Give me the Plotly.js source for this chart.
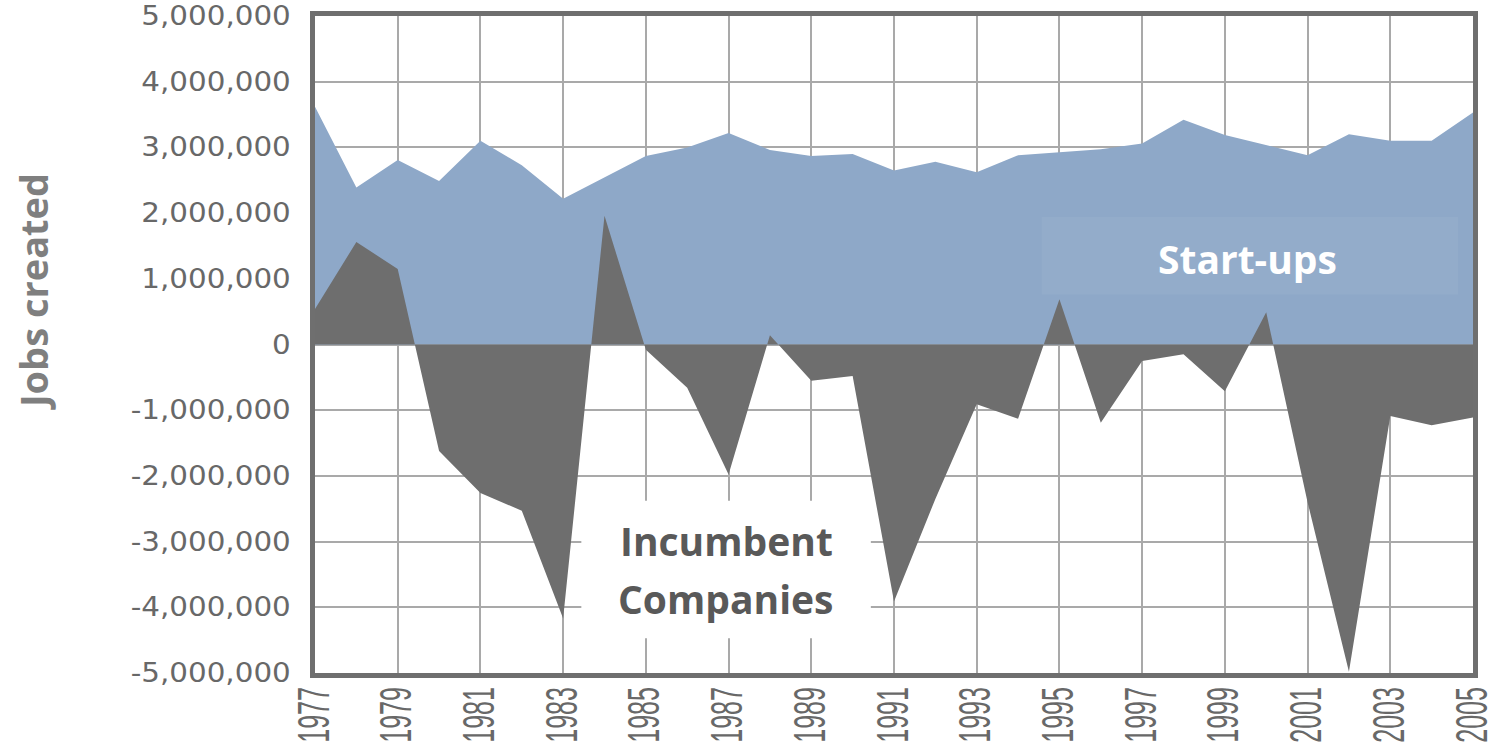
<!DOCTYPE html>
<html>
<head>
<meta charset="utf-8">
<script src="https://cdn.plot.ly/plotly-3.0.1.min.js"></script>
<style>
  html, body { margin: 0; padding: 0; background: #ffffff; }
  #chart { width: 1503px; height: 748px; }
</style>
</head>
<body>
<div id="chart"></div>
<script>
// ---- Data ----
const years = [1977, 1978, 1979, 1980, 1981, 1982, 1983, 1984, 1985, 1986,
               1987, 1988, 1989, 1990, 1991, 1992, 1993, 1994, 1995, 1996,
               1997, 1998, 1999, 2000, 2001, 2002, 2003, 2004, 2005];

const startups = [3620000, 2390000, 2810000, 2490000, 3100000, 2730000, 2220000, 2550000, 2870000, 3000000,
                  3220000, 2960000, 2870000, 2900000, 2650000, 2780000, 2620000, 2880000, 2920000, 2970000,
                  3060000, 3420000, 3190000, 3030000, 2880000, 3200000, 3100000, 3100000, 3530000];

const incumbents = [540000, 1560000, 1150000, -1620000, -2260000, -2530000, -4170000, 1960000, -80000, -660000,
                    -1980000, 140000, -550000, -480000, -3910000, -2350000, -910000, -1130000, 690000, -1190000,
                    -250000, -150000, -710000, 490000, -2400000, -4980000, -1090000, -1230000, -1110000];

const xTickVals = [1977, 1979, 1981, 1983, 1985, 1987, 1989, 1991, 1993, 1995, 1997, 1999, 2001, 2003, 2005];
const xTickText = ["1977", "1979", "1981", "1983", "1985", "1987", "1989", "1991", "1993", "1995", "1997", "1999", "2001", "2003", "2005"];
const yTickVals = [5000000, 4000000, 3000000, 2000000, 1000000, 0, -1000000, -2000000, -3000000, -4000000, -5000000];
const yTickText = ["5,000,000", "4,000,000", "3,000,000", "2,000,000", "1,000,000", "0",
                   "-1,000,000", "-2,000,000", "-3,000,000", "-4,000,000", "-5,000,000"];

const seriesNames = ["Start-ups", "Incumbent Companies"];
const labelLines = ["Incumbent", "Companies"];
const yTitle = "Jobs created";

// ---- Styles ----
const blue = "#8ea8c8";
const darkGray = "#6e6e6e";
const frame = "#6f6f6f";
const grid = "#a9a9a9";

const traces = [
  {
    x: years, y: startups, name: seriesNames[0], type: "scatter", mode: "lines",
    fill: "tozeroy", fillcolor: blue, line: { color: blue, width: 0 }, hoverinfo: "x+y"
  },
  {
    x: years, y: incumbents, name: seriesNames[1], type: "scatter", mode: "lines",
    fill: "tozeroy", fillcolor: darkGray, line: { color: darkGray, width: 0 }, hoverinfo: "x+y"
  }
];

const L = 315, R = 1473, T = 16, B = 673;
const layout = {
  width: 1503, height: 748,
  margin: { l: L, r: 1503 - R, t: T, b: 748 - B, pad: 0 },
  paper_bgcolor: "#ffffff", plot_bgcolor: "#ffffff",
  showlegend: false,
  xaxis: {
    range: [1977, 2005], tickmode: "array", tickvals: xTickVals, ticktext: xTickText,
    tickangle: -90, showgrid: true, gridcolor: grid, gridwidth: 2,
    showline: true, mirror: true, linecolor: frame, linewidth: 5, zeroline: false,
    ticks: "", ticklabelstandoff: 10,
    tickfont: { family: "Liberation Sans, Arial, sans-serif", size: 44, color: "#686868" }
  },
  yaxis: {
    range: [-5000000, 5000000], tickmode: "array", tickvals: yTickVals, ticktext: yTickText,
    showgrid: true, gridcolor: grid, gridwidth: 2,
    showline: true, mirror: true, linecolor: frame, linewidth: 5, zeroline: false,
    ticks: "", ticklabelstandoff: 14,
    tickfont: { family: "DejaVu Sans, sans-serif", size: 26, color: "#686868" }
  },
  shapes: [
    { type: "rect", xref: "x", yref: "y", x0: 1983.44, x1: 1990.44, y0: -4470000, y1: -2380000,
      fillcolor: "#ffffff", line: { width: 0 }, layer: "above" },
    { type: "rect", xref: "x", yref: "y", x0: 1994.57, x1: 2004.64, y0: 760000, y1: 1940000,
      fillcolor: "rgba(255,255,255,0.05)", line: { width: 0 }, layer: "above" }
  ],
  annotations: [
    { text: "<b>" + seriesNames[0] + "</b>", xref: "x", yref: "y", x: 1999.55, y: 1310000, showarrow: false,
      font: { family: "Open Sans, sans-serif", size: 39, color: "#ffffff" } },
    { text: "<b>" + labelLines[0] + "</b>", xref: "x", yref: "y", x: 1986.94, y: -2990000, showarrow: false,
      font: { family: "Open Sans, sans-serif", size: 39, color: "#595959" } },
    { text: "<b>" + labelLines[1] + "</b>", xref: "x", yref: "y", x: 1986.94, y: -3860000, showarrow: false,
      font: { family: "Open Sans, sans-serif", size: 39, color: "#595959" } },
    { text: "<b>" + yTitle + "</b>", xref: "paper", yref: "paper", x: (33 - L) / (R - L), y: (B - 292) / (B - T),
      xanchor: "center", yanchor: "middle", textangle: -90, showarrow: false,
      font: { family: "Open Sans, sans-serif", size: 38, color: "#7f7f7f" } }
  ]
};

// Squeeze / widen tick label glyphs to imitate the reference's typefaces,
// then shift each label so it sits next to the axis as in the reference.
function restyleTicks(gd) {
  const box = gd.getBoundingClientRect();
  const size = gd._fullLayout._size;
  const plotBottom = box.top + size.t + size.h;
  const squeeze = (sel, sx, align) => {
    gd.querySelectorAll(sel).forEach(t => {
      const r0 = t.getBoundingClientRect();
      const x = parseFloat(t.getAttribute("x")) || 0;
      const y = parseFloat(t.getAttribute("y")) || 0;
      const tr = t.getAttribute("transform") || "";
      t.setAttribute("transform", tr + " translate(" + x + "," + y + ") scale(" + sx + ",1) translate(" + (-x) + "," + (-y) + ")");
      const r1 = t.getBoundingClientRect();
      let dx, dy;
      if (align === "top") {
        dx = (r0.left + r0.width / 2) - (r1.left + r1.width / 2);
        dy = (plotBottom + 14) - r1.top;
      } else {
        dx = r0.right - r1.right;
        dy = (r0.top + r0.height / 2) - (r1.top + r1.height / 2);
      }
      const wrap = document.createElementNS("http://www.w3.org/2000/svg", "g");
      wrap.setAttribute("transform", "translate(" + dx + "," + dy + ")");
      t.parentNode.insertBefore(wrap, t);
      wrap.appendChild(t);
    });
  };
  squeeze(".xtick text", 0.57, "top");
  squeeze(".ytick text", 1.13, "right");
}

Plotly.newPlot("chart", traces, layout, { displayModeBar: false, staticPlot: true })
  .then(gd => restyleTicks(gd));
</script>
</body>
</html>
